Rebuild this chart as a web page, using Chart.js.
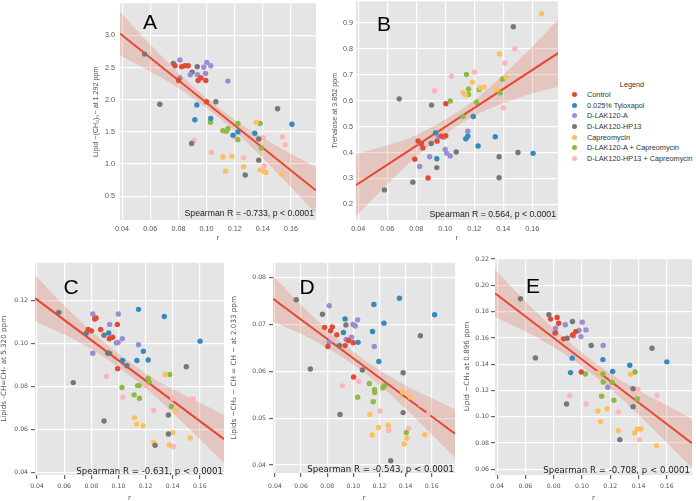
<!DOCTYPE html>
<html>
<head>
<meta charset="utf-8">
<script src="https://cdn.jsdelivr.net/npm/chart.js@4.4.1/dist/chart.umd.min.js"></script>
<style>
    html, body { margin: 0; padding: 0; background: #fff; }
    body { position: relative; width: 696px; height: 501px; overflow: hidden; }
    canvas { position: absolute; }
    #legend { position: absolute; left: 566px; top: 80px; font-family: "Liberation Sans", Arial, sans-serif; font-size: 7.3px; color: #333; }
    #legend .title { position: absolute; left: 66px; top: 0; white-space: nowrap; transform: translateX(-50%); }
    #legend .row { position: absolute; left: 0; white-space: nowrap; }
    #legend .dot { position: absolute; left: 5.5px; top: 2px; width: 5px; height: 5px; border-radius: 50%; }
    #legend .lab { position: absolute; left: 21px; top: 0; }
</style>
</head>
<body>
<canvas id="chartA" width="228" height="248" style="left:92px;top:-6px"></canvas>
<canvas id="chartB" width="231" height="248" style="left:331px;top:-6px"></canvas>
<canvas id="chartC" width="228" height="246" style="left:0px;top:256px"></canvas>
<canvas id="chartD" width="229" height="246" style="left:230px;top:256px"></canvas>
<canvas id="chartE" width="233" height="250" style="left:463px;top:252px"></canvas>
<div id="legend"></div>
<script>
// Groups (legend order) and their colours
const groups = ['Control', '0.025% Tyloxapol', 'D-LAK120-A', 'D-LAK120-HP13', 'Capreomycin',
    'D-LAK120-A + Capreomycin', 'D-LAK120-HP13 + Capreomycin'];
const colors = ['#E24A33', '#348ABD', '#988ED5', '#777777', '#FBC15E', '#8EBA42', '#FFB5B8'];

// shared x axis (r)
const xTicks = [0.04, 0.06, 0.08, 0.10, 0.12, 0.14, 0.16];
const fitX = [0.0385, 0.06, 0.08, 0.10, 0.12, 0.14, 0.16, 0.1778];

// Panel A: Lipid -(CH2)n- at 1.292 ppm   [r, value] per group
const pointsA = [
    [[0.0776,2.53],[0.0823,2.515],[0.0847,2.53],[0.087,2.53],[0.0802,2.30],[0.094,2.30],[0.096,2.34],[0.0995,2.30],[0.100,1.97]],
    [[0.0931,1.92],[0.0917,1.69],[0.103,1.71],[0.1188,1.45],[0.1223,1.50],[0.1343,1.48],[0.1607,1.62]],
    [[0.0811,2.62],[0.1002,2.58],[0.103,2.53],[0.0981,2.505],[0.0884,2.39],[0.0936,2.39],[0.0993,2.41],[0.081,2.34],[0.1152,2.29]],
    [[0.056,2.71],[0.0764,2.566],[0.0934,2.515],[0.0898,2.43],[0.1066,1.97],[0.0668,1.93],[0.0894,1.32],[0.1505,1.86],[0.1371,1.39],[0.1275,0.83],[0.1371,1.06]],
    [[0.1117,1.11],[0.1181,1.12],[0.1136,0.89],[0.1353,1.65],[0.1263,0.96],[0.1381,0.91],[0.1404,0.89],[0.1423,0.87],[0.1536,0.84]],
    [[0.1028,1.65],[0.1117,1.52],[0.1141,1.51],[0.1152,1.55],[0.1223,1.63],[0.1223,1.38],[0.1381,1.63],[0.139,1.25]],
    [[0.0912,1.37],[0.1035,1.18],[0.120,1.42],[0.1404,1.41],[0.154,1.42],[0.1559,1.30],[0.1263,1.10],[0.1411,0.97]]
];
const fitA = [3.03, 2.65, 2.30, 1.95, 1.60, 1.25, 0.90, 0.59];
const loA = [2.69, 2.44, 2.18, 1.87, 1.51, 1.09, 0.64, 0.23];
const hiA = [3.37, 2.86, 2.42, 2.03, 1.69, 1.41, 1.16, 0.95];
const yTicksA = [0.5, 1.0, 1.5, 2.0, 2.5, 3.0];

// Panel B: Trehalose at 3.852 ppm
const pointsB = [
    [[0.0813,0.445],[0.0835,0.435],[0.0846,0.418],[0.079,0.374],[0.0882,0.302],[0.0944,0.444],[0.0973,0.463],[0.1004,0.465],[0.1004,0.588]],
    [[0.0933,0.476],[0.0942,0.376],[0.1194,0.539],[0.1156,0.463],[0.1142,0.453],[0.1227,0.425],[0.1345,0.461],[0.1606,0.397]],
    [[0.0824,0.435],[0.0824,0.346],[0.0893,0.384],[0.0955,0.463],[0.0989,0.459],[0.100,0.412],[0.1011,0.397],[0.1035,0.387],[0.1156,0.482]],
    [[0.0581,0.256],[0.0683,0.607],[0.0777,0.286],[0.0906,0.583],[0.0904,0.435],[0.0942,0.342],[0.1076,0.402],[0.1372,0.384],[0.1502,0.40],[0.1372,0.303],[0.147,0.885]],
    [[0.1124,0.631],[0.114,0.622],[0.1187,0.671],[0.1241,0.65],[0.1268,0.653],[0.1352,0.643],[0.1375,0.78],[0.1422,0.69],[0.1665,0.935]],
    [[0.1035,0.599],[0.1147,0.701],[0.1161,0.645],[0.1161,0.624],[0.1216,0.594],[0.1122,0.539],[0.1234,0.643],[0.1395,0.683],[0.1379,0.63]],
    [[0.0926,0.637],[0.1044,0.694],[0.1201,0.71],[0.1412,0.745],[0.1401,0.573],[0.148,0.80],[0.154,0.75]]
];
const fitB = [0.274, 0.353, 0.426, 0.499, 0.572, 0.645, 0.718, 0.783];
const loB = [0.154, 0.278, 0.384, 0.471, 0.542, 0.590, 0.628, 0.653];
const hiB = [0.394, 0.428, 0.468, 0.527, 0.602, 0.700, 0.808, 0.913];
const yTicksB = [0.2, 0.3, 0.4, 0.5, 0.6, 0.7, 0.8, 0.9];

// Panel C: Lipids -CH=CH- at 5.320 ppm
const pointsC = [
    [[0.0825,0.1115],[0.0835,0.112],[0.0992,0.109],[0.0777,0.1066],[0.0801,0.106],[0.0869,0.1066],[0.0933,0.1023],[0.0957,0.103],[0.0994,0.0884]],
    [[0.1148,0.116],[0.1338,0.1127],[0.0928,0.105],[0.1602,0.1012],[0.1184,0.0965],[0.103,0.0922],[0.1136,0.0922],[0.1219,0.0924]],
    [[0.0811,0.1138],[0.0999,0.1138],[0.0935,0.109],[0.0984,0.1004],[0.0997,0.1006],[0.1028,0.1023],[0.1148,0.0995],[0.0811,0.0956]],
    [[0.0561,0.1146],[0.0762,0.1049],[0.0894,0.104],[0.0921,0.0957],[0.0935,0.0955],[0.1063,0.0898],[0.150,0.0893],[0.0667,0.0819],[0.1368,0.0668],[0.0894,0.064],[0.1368,0.058],[0.127,0.0527]],
    [[0.1344,0.0857],[0.1422,0.0685],[0.1118,0.0655],[0.1133,0.0626],[0.1182,0.0618],[0.140,0.0586],[0.1529,0.0561],[0.1261,0.054],[0.1375,0.0529]],
    [[0.1378,0.0857],[0.1219,0.0838],[0.1226,0.0822],[0.1026,0.0796],[0.1141,0.0805],[0.1153,0.0805],[0.1116,0.0762],[0.1155,0.0746],[0.139,0.0708]],
    [[0.0911,0.0848],[0.1197,0.0806],[0.1033,0.0751],[0.140,0.0745],[0.1534,0.0734],[0.1549,0.0743],[0.1261,0.0689],[0.1407,0.0521]]
];
const fitC = [0.1212, 0.1111, 0.1017, 0.0922, 0.0828, 0.0734, 0.0640, 0.0556];
const loC = [0.1104, 0.1043, 0.0975, 0.0890, 0.0793, 0.0679, 0.0555, 0.0444];
const hiC = [0.1320, 0.1179, 0.1059, 0.0954, 0.0863, 0.0789, 0.0725, 0.0668];
const yTicksC = [0.04, 0.06, 0.08, 0.10, 0.12];

// Panel D: Lipids -CH2-CH=CH- at 2.033 ppm
const pointsD = [
    [[0.078,0.0694],[0.0839,0.0695],[0.0826,0.0687],[0.0873,0.0678],[0.0805,0.0653],[0.0937,0.0655],[0.0963,0.0666],[0.0999,0.0661],[0.1002,0.0588]],
    [[0.1157,0.0743],[0.1353,0.0756],[0.1622,0.0721],[0.0937,0.0712],[0.1234,0.0703],[0.0924,0.0683],[0.1147,0.0685],[0.1036,0.0662],[0.1195,0.0621]],
    [[0.0816,0.074],[0.1033,0.071],[0.0997,0.070],[0.1015,0.0697],[0.0816,0.0662],[0.0945,0.0668],[0.0986,0.0673],[0.116,0.0653]],
    [[0.0563,0.0753],[0.0764,0.0722],[0.0943,0.0699],[0.0893,0.0655],[0.0671,0.0605],[0.1069,0.0603],[0.1381,0.0597],[0.1513,0.0676],[0.0898,0.0508],[0.1381,0.0512],[0.1286,0.0409]],
    [[0.1377,0.0556],[0.1436,0.0545],[0.1126,0.0508],[0.1191,0.048],[0.1268,0.0485],[0.1144,0.0464],[0.141,0.0457],[0.1389,0.0445],[0.1547,0.0465]],
    [[0.1123,0.0574],[0.1162,0.0561],[0.1164,0.0555],[0.1226,0.0565],[0.124,0.057],[0.1033,0.0545],[0.1152,0.0535],[0.1405,0.0469]],
    [[0.1416,0.0555],[0.1041,0.0579],[0.0916,0.0569],[0.1515,0.0529],[0.1571,0.0508],[0.1203,0.0515],[0.1271,0.0474],[0.1423,0.0478]]
];
const fitD = [0.0755, 0.0711, 0.0669, 0.0628, 0.0587, 0.0545, 0.0504, 0.0467];
const loD = [0.0706, 0.0680, 0.0650, 0.0614, 0.0571, 0.0520, 0.0465, 0.0415];
const hiD = [0.0804, 0.0742, 0.0688, 0.0642, 0.0603, 0.0570, 0.0543, 0.0519];
const yTicksD = [0.04, 0.05, 0.06, 0.07, 0.08];

// Panel E: Lipid -CH3 at 0.896 ppm
const pointsE = [
    [[0.0778,0.1743],[0.0824,0.1755],[0.0835,0.1712],[0.0956,0.1648],[0.0933,0.1623],[0.087,0.1593],[0.0995,0.1341],[0.0813,0.164]],
    [[0.0931,0.1446],[0.1148,0.1435],[0.160,0.1418],[0.1338,0.1392],[0.0919,0.1336],[0.1217,0.1344]],
    [[0.0882,0.170],[0.1002,0.172],[0.0813,0.1674],[0.1028,0.1661],[0.0979,0.1656],[0.0808,0.1636],[0.094,0.1616],[0.0993,0.161],[0.115,0.1542],[0.1183,0.1225]],
    [[0.0565,0.1898],[0.0766,0.1776],[0.0933,0.1725],[0.0896,0.1598],[0.1065,0.1542],[0.1495,0.1522],[0.0671,0.1448],[0.1361,0.1214],[0.0891,0.1098],[0.1361,0.1077],[0.1268,0.0826]],
    [[0.1113,0.1331],[0.1344,0.1324],[0.1178,0.1062],[0.1113,0.1044],[0.1132,0.0963],[0.1257,0.0894],[0.1372,0.0877],[0.1391,0.0907],[0.1417,0.0907],[0.1528,0.078]],
    [[0.1025,0.1326],[0.1148,0.1326],[0.1375,0.1341],[0.115,0.1265],[0.1213,0.1263],[0.1139,0.1156],[0.1226,0.1126],[0.1391,0.1136]],
    [[0.1183,0.1225],[0.1396,0.121],[0.0912,0.1161],[0.153,0.1164],[0.1549,0.1088],[0.103,0.1098],[0.1257,0.1037],[0.1407,0.0826]]
];
const fitE = [0.1940, 0.1764, 0.1600, 0.1436, 0.1272, 0.1108, 0.0944, 0.0798];
const loE = [0.1760, 0.1649, 0.1529, 0.1383, 0.1214, 0.1016, 0.0801, 0.0613];
const hiE = [0.2120, 0.1879, 0.1671, 0.1489, 0.1330, 0.1200, 0.1087, 0.0983];
const yTicksE = [0.06, 0.08, 0.10, 0.12, 0.14, 0.16, 0.18, 0.20, 0.22];

const ARIAL = '"Liberation Sans", Arial, sans-serif';
const DEJAVU = '"DejaVu Sans", sans-serif';

// grey panel background
const bgPlugin = {
    id: 'panelBg',
    beforeDraw(chart) {
        const a = chart.chartArea;
        const ctx = chart.ctx;
        ctx.save();
        ctx.fillStyle = '#e5e5e5';
        ctx.fillRect(a.left, a.top, a.right - a.left, a.bottom - a.top);
        ctx.restore();
    }
};

// spearman text + panel letter
const notePlugin = {
    id: 'notes',
    afterDraw(chart, args, opts) {
        const ctx = chart.ctx;
        const a = chart.chartArea;
        ctx.save();
        ctx.fillStyle = '#222';
        ctx.font = opts.statSize + 'px ' + opts.family;
        ctx.textAlign = 'right';
        ctx.textBaseline = 'middle';
        ctx.fillText(opts.stat, a.right - opts.statDx, a.bottom - opts.statDy);
        ctx.fillStyle = '#000';
        ctx.font = '21px ' + ARIAL;
        ctx.textAlign = 'center';
        ctx.fillText(opts.letter, opts.letterX, opts.letterY);
        ctx.restore();
    }
};

function makePanel(id, pts, fit, lo, hi, yTicks, p) {
    const last = fitX.length - 1;
    const datasets = [
        { type: 'line', data: fitX.map((x, i) => ({ x: x, y: hi[i] })), fill: '+1',
          backgroundColor: 'rgba(226,74,51,0.2)', borderColor: 'transparent', borderWidth: 0,
          pointRadius: 0, tension: 0.35, order: 3 },
        { type: 'line', data: fitX.map((x, i) => ({ x: x, y: lo[i] })), fill: false,
          borderColor: 'transparent', borderWidth: 0, pointRadius: 0, tension: 0.35, order: 3 },
        { type: 'line', data: [{ x: fitX[0], y: fit[0] }, { x: fitX[last], y: fit[last] }],
          borderColor: '#E24A33', borderWidth: 2, pointRadius: 0, fill: false, order: 2 }
    ];
    groups.forEach((g, i) => {
        datasets.push({
            type: 'scatter', label: g,
            data: pts[i].map(v => ({ x: v[0], y: v[1] })),
            backgroundColor: colors[i], borderWidth: 0, pointRadius: 2.7, order: 1
        });
    });

    const tickFont = { family: p.family, size: p.tickSize };
    const titleFont = { family: p.family, size: 7.2 };

    return new Chart(document.getElementById(id), {
        type: 'scatter',
        data: { datasets: datasets },
        options: {
            responsive: false,
            animation: false,
            events: [],
            layout: { padding: { top: 6, right: p.padRight, left: 0, bottom: 0 } },
            plugins: {
                legend: { display: false },
                tooltip: { enabled: false },
                notes: p.notes
            },
            scales: {
                x: {
                    type: 'linear', min: 0.0385, max: 0.1778,
                    afterBuildTicks: s => { s.ticks = xTicks.map(v => ({ value: v })); },
                    afterFit: s => { s.height = p.xH; },
                    grid: { color: '#ffffff', lineWidth: 1.2, drawTicks: p.marks, tickLength: 4, tickColor: '#666' },
                    border: { display: false },
                    ticks: { font: tickFont, color: '#555', padding: p.xPad, maxRotation: 0, autoSkip: false,
                             callback: v => v.toFixed(2) },
                    title: { display: true, text: 'r', font: titleFont, color: '#555', padding: 0 }
                },
                y: {
                    type: 'linear', min: p.yMin, max: p.yMax,
                    afterBuildTicks: s => { s.ticks = yTicks.map(v => ({ value: v })); },
                    afterFit: s => { s.width = p.yW; },
                    grid: { color: '#ffffff', lineWidth: 1.2, drawTicks: p.marks, tickLength: 4, tickColor: '#666' },
                    border: { display: false },
                    ticks: { font: tickFont, color: '#555', padding: p.yPad, autoSkip: false,
                             callback: v => v.toFixed(p.dec) },
                    title: { display: true, text: p.yTitle, font: titleFont, color: '#555', padding: 0 }
                }
            }
        },
        plugins: [bgPlugin, notePlugin]
    });
}

makePanel('chartA', pointsA, fitA, loA, hiA, yTicksA, {
    family: ARIAL, tickSize: 7.2, marks: false, xH: 22, yW: 28, padRight: 2, xPad: 5, yPad: 5,
    yMin: 0.13, yMax: 3.5, dec: 1, yTitle: 'Lipid −(CH₂)ₙ− at 1.292 ppm',
    notes: { stat: 'Spearman R = -0.733, p < 0.0001', family: ARIAL, statSize: 8.7, statDx: 2, statDy: 6,
             letter: 'A', letterX: 58, letterY: 29 }
});

makePanel('chartB', pointsB, fitB, loB, hiB, yTicksB, {
    family: ARIAL, tickSize: 7.2, marks: false, xH: 22, yW: 25, padRight: 0, xPad: 5, yPad: 3,
    yMin: 0.14, yMax: 0.983, dec: 1, yTitle: 'Trehalose at 3.852 ppm',
    notes: { stat: 'Spearman R = 0.564, p < 0.0001', family: ARIAL, statSize: 8.7, statDx: 2, statDy: 5,
             letter: 'B', letterX: 53, letterY: 31 }
});

makePanel('chartC', pointsC, fitC, loC, hiC, yTicksC, {
    family: DEJAVU, tickSize: 6.2, marks: true, xH: 27, yW: 35, padRight: 2, xPad: 4, yPad: 3,
    yMin: 0.0389, yMax: 0.1377, dec: 2, yTitle: 'Lipids -CH=CH- at 5.320 ppm',
    notes: { stat: 'Spearman R = -0.631, p < 0.0001', family: DEJAVU, statSize: 8.6, statDx: 1, statDy: 3,
             letter: 'C', letterX: 71, letterY: 32 }
});

makePanel('chartD', pointsD, fitD, loD, hiD, yTicksD, {
    family: DEJAVU, tickSize: 6.2, marks: true, xH: 29, yW: 43, padRight: 2, xPad: 6, yPad: 3,
    yMin: 0.0383, yMax: 0.0832, dec: 2, yTitle: 'Lipids −CH₂ − CH = CH − at 2.033 ppm',
    notes: { stat: 'Spearman R = -0.543, p < 0.0001', family: DEJAVU, statSize: 8.6, statDx: 1, statDy: 3,
             letter: 'D', letterX: 77, letterY: 32 }
});

makePanel('chartE', pointsE, fitE, loE, hiE, yTicksE, {
    family: DEJAVU, tickSize: 6.2, marks: true, xH: 27, yW: 32, padRight: 1, xPad: 4, yPad: 2,
    yMin: 0.0557, yMax: 0.2208, dec: 2, yTitle: 'Lipid −CH₃ at 0.896 ppm',
    notes: { stat: 'Spearman R = -0.708, p < 0.0001', family: DEJAVU, statSize: 8.6, statDx: 2, statDy: 4,
             letter: 'E', letterX: 70, letterY: 35 }
});

// Legend box (right of panel B)
const legend = document.getElementById('legend');
legend.innerHTML = '<div class="title">Legend</div>';
groups.forEach((g, i) => {
    const row = document.createElement('div');
    row.className = 'row';
    row.style.top = (10 + i * 10.65) + 'px';
    row.innerHTML = '<span class="dot" style="background:' + colors[i] + '"></span><span class="lab">' + g + '</span>';
    legend.appendChild(row);
});
</script>
</body>
</html>
